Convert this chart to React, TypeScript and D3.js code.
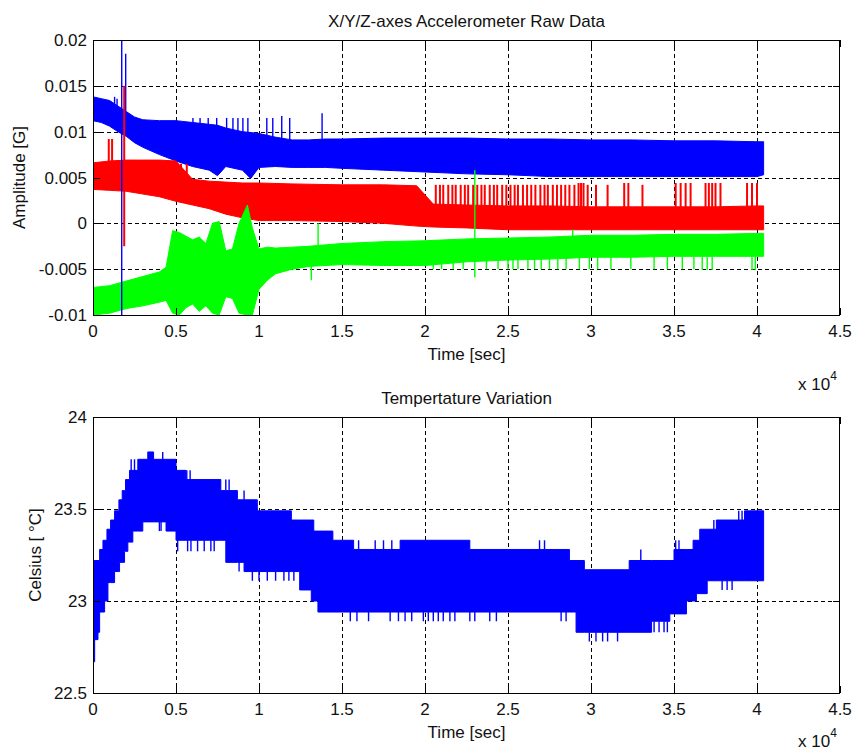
import { useEffect, useRef } from 'react'
import * as d3 from 'd3'

const FONT = '"Liberation Sans", Arial, Helvetica, sans-serif'

// shared time axis (seconds)
const timeTicks = [0, 5000, 10000, 15000, 20000, 25000, 30000, 35000, 40000, 45000]
const accTicks = [-0.01, -0.005, 0, 0.005, 0.01, 0.015, 0.02]
const accTickLabels = ['-0.01', '-0.005', '0', '0.005', '0.01', '0.015', '0.02']
const tempTicks = [22.5, 23, 23.5, 24]
const tempTickLabels = ['22.5', '23', '23.5', '24']

// accelerometer bands: time, upper envelope, lower envelope
const blueT = [0, 500, 1000, 1500, 2000, 2500, 3000, 4000, 5000, 6000, 7000, 7500, 8000, 9000, 9500, 10000, 11000, 12000, 13000, 14000, 15000, 17500, 20000, 22500, 25000, 27500, 30000, 32500, 35000, 37500, 40000, 40400]
const blueHi = [0.0138, 0.0136, 0.0134, 0.0128, 0.0122, 0.0116, 0.0113, 0.0112, 0.0112, 0.011, 0.0108, 0.0107, 0.0104, 0.01, 0.0099, 0.0098, 0.0094, 0.0091, 0.0091, 0.0092, 0.0092, 0.0093, 0.0093, 0.0093, 0.0092, 0.0092, 0.0091, 0.0091, 0.009, 0.009, 0.0089, 0.0089]
const blueLo = [0.0112, 0.011, 0.0106, 0.01, 0.0095, 0.0088, 0.0083, 0.0075, 0.0068, 0.0062, 0.0058, 0.0052, 0.0062, 0.0058, 0.0049, 0.0061, 0.0062, 0.0061, 0.0061, 0.0061, 0.006, 0.0058, 0.0056, 0.0054, 0.0053, 0.0051, 0.0051, 0.0051, 0.0051, 0.0051, 0.0051, 0.0053]

const redT = [0, 1000, 2000, 3000, 4000, 5000, 5500, 6000, 7000, 8000, 9000, 10000, 12000, 15000, 17500, 19500, 20500, 22500, 25000, 27500, 30000, 32500, 35000, 37500, 40000, 40400]
const redHi = [0.0066, 0.0068, 0.0069, 0.0069, 0.0069, 0.0068, 0.0058, 0.0048, 0.0046, 0.0045, 0.0044, 0.0044, 0.0043, 0.0042, 0.0042, 0.0041, 0.0021, 0.002, 0.0019, 0.0019, 0.0018, 0.0018, 0.0018, 0.0018, 0.0019, 0.0019]
const redLo = [0.0037, 0.0036, 0.0035, 0.0032, 0.0029, 0.0024, 0.0022, 0.002, 0.0016, 0.001, 0.0006, 0.0003, 0.0003, 0.0002, 0, -0.0003, -0.0004, -0.0005, -0.0007, -0.0007, -0.0007, -0.0007, -0.0007, -0.0007, -0.0007, -0.0007]

const greenT = [0, 1000, 2000, 3000, 4000, 4400, 4800, 5200, 5600, 6000, 6400, 6800, 7200, 7600, 8000, 8400, 8800, 9300, 9600, 10000, 10500, 11000, 12000, 13000, 15000, 17500, 20000, 22500, 25000, 27500, 30000, 32500, 35000, 37500, 40000, 40400]
const greenHi = [-0.007, -0.0068, -0.0063, -0.0058, -0.0053, -0.0048, -0.0008, -0.001, -0.0014, -0.0018, -0.0015, -0.0022, 0, 0.0002, -0.003, -0.0028, 0, 0.002, -0.0005, -0.0028, -0.0026, -0.0027, -0.0026, -0.0025, -0.0022, -0.002, -0.0019, -0.0017, -0.0016, -0.0015, -0.0013, -0.0013, -0.0012, -0.0012, -0.0011, -0.0011]
const greenLo = [-0.01, -0.0098, -0.0093, -0.009, -0.0086, -0.0084, -0.0098, -0.01, -0.0092, -0.0088, -0.0096, -0.009, -0.0098, -0.01, -0.008, -0.0082, -0.0098, -0.01, -0.01, -0.0072, -0.0062, -0.0055, -0.005, -0.0047, -0.0045, -0.0046, -0.0046, -0.0042, -0.004, -0.0039, -0.0037, -0.0037, -0.0036, -0.0036, -0.0036, -0.0036]

// single glitches: [time, from, to]
const blueSpikes = [
  [1730, -0.012, 0.022], [1970, 0.0098, 0.0185], [1300, 0.013, 0.0138], [1450, 0.0128, 0.0136],
  [6020, 0.0105, 0.0115], [6450, 0.0105, 0.0115], [6940, 0.0105, 0.0115], [7450, 0.0105, 0.0115],
  [8050, 0.01, 0.0115], [8430, 0.0098, 0.0115], [8730, 0.0098, 0.0115], [9030, 0.0096, 0.0115],
  [9330, 0.0096, 0.0115], [10470, 0.0094, 0.0115], [10830, 0.0092, 0.0115], [11370, 0.009, 0.0117],
  [11850, 0.009, 0.0115], [13800, 0.009, 0.012],
]
const redSpikes = [
  [1880, -0.0025, 0.015], [950, 0.006, 0.0092], [1150, 0.006, 0.0092],
  [4850, 0.004, 0.0065], [5300, 0.004, 0.0065], [5650, 0.004, 0.0065],
  [20650, 0.0015, 0.0042], [20900, 0.0015, 0.0042], [21100, 0.0015, 0.0042], [21400, 0.0015, 0.0042],
  [21650, 0.0015, 0.0042], [21850, 0.0015, 0.0042], [22150, 0.0015, 0.0042], [22400, 0.0015, 0.0042],
  [22600, 0.0015, 0.0042], [22900, 0.0015, 0.0042], [23150, 0.0015, 0.0042], [23400, 0.0015, 0.0042],
  [23600, 0.0015, 0.0042], [23900, 0.0015, 0.0042], [24150, 0.0015, 0.0042], [24350, 0.0015, 0.0042],
  [24650, 0.0015, 0.0042], [24900, 0.0015, 0.0042], [25150, 0.0015, 0.0042], [25400, 0.0015, 0.0042],
  [25600, 0.0015, 0.0042], [25900, 0.0015, 0.0042], [26150, 0.0015, 0.0042], [26400, 0.0015, 0.0042],
  [26650, 0.0015, 0.0042], [26950, 0.0015, 0.0042], [27200, 0.0015, 0.0042], [27400, 0.0015, 0.0042],
  [27700, 0.0015, 0.0042], [27950, 0.0015, 0.0042], [28200, 0.0015, 0.0042], [28450, 0.0015, 0.0042],
  [28700, 0.0015, 0.0042], [29000, 0.0015, 0.0042], [29250, 0.0015, 0.0044], [29400, 0.0015, 0.0044],
  [29550, 0.0015, 0.0044], [29800, 0.0015, 0.0042], [30300, 0.0015, 0.0042], [31000, 0.0015, 0.0042],
  [32000, 0.0015, 0.0044], [32250, 0.0015, 0.0044], [33100, 0.0015, 0.0042], [35100, 0.0015, 0.0044],
  [35400, 0.0015, 0.0044], [35700, 0.0015, 0.0044], [36000, 0.0015, 0.0044], [36900, 0.0015, 0.0044],
  [37100, 0.0015, 0.0044], [37300, 0.0015, 0.0044], [37500, 0.0015, 0.0044], [37800, 0.0015, 0.0044],
  [39400, 0.0015, 0.0044], [39700, 0.0015, 0.0044], [40000, 0.0015, 0.0044],
]
const greenSpikes = [
  [23000, -0.0059, 0.0058], [13560, -0.004, 0], [13150, -0.0062, -0.004], [28900, -0.002, -0.0007],
  [20500, -0.004, -0.005], [21000, -0.004, -0.005], [21700, -0.004, -0.005], [22300, -0.004, -0.005],
  [23700, -0.004, -0.005], [24400, -0.004, -0.005], [25000, -0.0038, -0.005], [25300, -0.0038, -0.005],
  [25600, -0.0038, -0.005], [26200, -0.0038, -0.005], [26600, -0.0038, -0.005], [27000, -0.0038, -0.005],
  [27500, -0.0038, -0.005], [28000, -0.0038, -0.005], [28500, -0.0037, -0.005], [29300, -0.0037, -0.005],
  [29900, -0.0037, -0.005], [30400, -0.0036, -0.005], [31200, -0.0036, -0.005], [32400, -0.0036, -0.005],
  [33800, -0.0036, -0.005], [34600, -0.0036, -0.005], [35500, -0.0036, -0.005], [36200, -0.0036, -0.005],
  [36700, -0.0036, -0.0051], [37000, -0.0036, -0.0051], [37300, -0.0036, -0.0051], [39700, -0.0036, -0.0051],
  [39900, -0.0036, -0.0051],
]

// temperature staircase (°C)
const tempHiT = [0, 400, 600, 840, 1060, 1300, 1560, 1760, 1960, 2200, 2700, 3300, 3650, 5000, 5600, 7700, 8700, 9900, 11950, 13300, 14450, 15700, 18500, 22700, 28700, 29600, 32300, 35000, 36150, 36550, 37550, 39250, 40400]
const tempHi = [23.22, 23.28, 23.33, 23.39, 23.44, 23.49, 23.55, 23.6, 23.66, 23.71, 23.77, 23.81, 23.77, 23.71, 23.66, 23.6, 23.55, 23.49, 23.44, 23.38, 23.33, 23.28, 23.33, 23.28, 23.22, 23.17, 23.22, 23.28, 23.33, 23.39, 23.44, 23.49, 23.49]
const tempLoT = [0, 100, 300, 400, 700, 900, 1300, 1600, 1900, 2100, 2400, 3000, 4400, 5000, 8000, 9100, 12450, 13150, 13550, 29100, 33650, 34750, 35750, 36350, 37000, 40400]
const tempLo = [22.67, 22.79, 22.83, 22.94, 23.0, 23.1, 23.16, 23.21, 23.27, 23.32, 23.38, 23.43, 23.38, 23.33, 23.21, 23.16, 23.06, 23.0, 22.94, 22.83, 22.89, 22.93, 23.0, 23.04, 23.11, 23.11]
const tempSpikes = [
  [2300, 23.7, 23.77], [2500, 23.7, 23.77], [4200, 23.77, 23.81], [5650, 23.66, 23.71], [5850, 23.66, 23.71],
  [8000, 23.6, 23.66], [8200, 23.6, 23.66], [9100, 23.55, 23.6], [15400, 23.28, 23.33], [16000, 23.28, 23.33],
  [17000, 23.28, 23.33], [17500, 23.28, 23.33], [18000, 23.28, 23.33], [26900, 23.28, 23.33], [27200, 23.28, 23.33],
  [33000, 23.22, 23.28], [35100, 23.28, 23.33], [35300, 23.28, 23.33], [37400, 23.39, 23.44], [37600, 23.39, 23.44],
  [38900, 23.44, 23.49], [39100, 23.44, 23.49],
  [4000, 23.43, 23.38], [4100, 23.43, 23.38], [5100, 23.33, 23.27], [5700, 23.33, 23.27], [5900, 23.33, 23.27],
  [6300, 23.33, 23.27], [6700, 23.33, 23.27], [7100, 23.33, 23.27], [7300, 23.33, 23.27], [8800, 23.21, 23.16],
  [9600, 23.16, 23.11], [10000, 23.16, 23.11], [10500, 23.16, 23.11], [11000, 23.16, 23.11], [11500, 23.16, 23.11],
  [11800, 23.16, 23.11], [12100, 23.16, 23.11],
  [15500, 22.94, 22.89], [15900, 22.94, 22.89], [16600, 22.94, 22.89], [17900, 22.94, 22.89], [18400, 22.94, 22.89],
  [18800, 22.94, 22.89], [19200, 22.94, 22.89], [19900, 22.94, 22.89], [20200, 22.94, 22.89], [20500, 22.94, 22.89],
  [20800, 22.94, 22.89], [21100, 22.94, 22.89], [21500, 22.94, 22.89], [21800, 22.94, 22.89], [22700, 22.94, 22.89],
  [23000, 22.94, 22.89], [23900, 22.94, 22.89], [24300, 22.94, 22.89], [28200, 22.94, 22.89], [28500, 22.94, 22.89],
  [29900, 22.83, 22.78], [30300, 22.83, 22.78], [30700, 22.83, 22.78], [31000, 22.83, 22.78], [31600, 22.83, 22.78],
  [33800, 22.89, 22.83], [34100, 22.89, 22.83], [34400, 22.89, 22.83], [34600, 22.89, 22.83],
  [37900, 23.11, 23.06], [38200, 23.11, 23.06], [38500, 23.11, 23.06],
]

const TOP = { left: 93, right: 840, top: 40, bottom: 315, expY: 390 }
const BOTTOM = { left: 93, right: 840, top: 417, bottom: 693, expY: 747 }

export default function App() {
  const svgRef = useRef<SVGSVGElement>(null)

  useEffect(() => {
    const svg = d3.select(svgRef.current)
    svg.selectAll('*').remove()

    const drawPanel = (box, id, yDomain, yTicks, yLabels, title, yLabel, yLabelX, plotData) => {
      const x = d3.scaleLinear().domain([0, 45000]).range([box.left, box.right])
      const y = d3.scaleLinear().domain(yDomain).range([box.bottom, box.top])
      const px = (v) => Math.round(v) + 0.5

      svg.append('clipPath').attr('id', id)
        .append('rect')
        .attr('x', box.left).attr('y', box.top)
        .attr('width', box.right - box.left).attr('height', box.bottom - box.top)

      // grid
      const grid = svg.append('g')
        .attr('stroke', '#000').attr('stroke-width', 1).attr('stroke-dasharray', '4,3')
      timeTicks.slice(1, -1).forEach((t) => {
        grid.append('line').attr('x1', px(x(t))).attr('x2', px(x(t)))
          .attr('y1', box.top).attr('y2', box.bottom)
      })
      yTicks.slice(1, -1).forEach((v) => {
        grid.append('line').attr('y1', px(y(v))).attr('y2', px(y(v)))
          .attr('x1', box.left).attr('x2', box.right)
      })

      const plot = svg.append('g').attr('clip-path', `url(#${id})`)
      plotData(plot, x, y)

      // box and ticks
      const frame = svg.append('g').attr('stroke', '#000').attr('stroke-width', 1).attr('fill', 'none')
      frame.append('rect')
        .attr('x', box.left + 0.5).attr('y', box.top + 0.5)
        .attr('width', box.right - box.left - 1).attr('height', box.bottom - box.top)
      const tl = 7
      timeTicks.forEach((t) => {
        frame.append('line').attr('x1', px(x(t))).attr('x2', px(x(t))).attr('y1', box.bottom).attr('y2', box.bottom - tl)
        frame.append('line').attr('x1', px(x(t))).attr('x2', px(x(t))).attr('y1', box.top).attr('y2', box.top + tl)
      })
      yTicks.forEach((v) => {
        frame.append('line').attr('y1', px(y(v))).attr('y2', px(y(v))).attr('x1', box.left).attr('x2', box.left + tl)
        frame.append('line').attr('y1', px(y(v))).attr('y2', px(y(v))).attr('x1', box.right).attr('x2', box.right - tl)
      })

      const text = svg.append('g').attr('font-family', FONT).attr('font-size', 17).attr('fill', '#111')
      timeTicks.forEach((t) => {
        text.append('text').attr('x', x(t)).attr('y', box.bottom + 22)
          .attr('text-anchor', 'middle').text(d3.format('~g')(t / 10000))
      })
      yTicks.forEach((v, i) => {
        text.append('text').attr('x', box.left - 6).attr('y', y(v) + 6)
          .attr('text-anchor', 'end').text(yLabels[i])
      })
      text.append('text').attr('x', (box.left + box.right) / 2).attr('y', box.bottom + 45)
        .attr('text-anchor', 'middle').text('Time [sec]')
      text.append('text').attr('x', (box.left + box.right) / 2).attr('y', box.top - 13)
        .attr('text-anchor', 'middle').text(title)
      text.append('text')
        .attr('transform', `translate(${yLabelX},${(box.top + box.bottom) / 2}) rotate(-90)`)
        .attr('text-anchor', 'middle').text(yLabel)
      const exp = text.append('text').attr('x', 798).attr('y', box.expY)
      exp.append('tspan').text('x 10')
      exp.append('tspan').attr('font-size', 12).attr('dy', -10).text('4')
    }

    const band = (g, x, y, ts, hi, lo, color, curve) => {
      const pts = ts.map((t, i) => ({ t, hi: hi[i], lo: lo[i] }))
      const area = d3.area().curve(curve)
        .x((d) => x(d.t)).y0((d) => y(d.lo)).y1((d) => y(d.hi))
      g.append('path').datum(pts).attr('d', area)
        .attr('fill', color).attr('stroke', color).attr('stroke-width', 1)
    }
    const spikes = (g, x, y, list, color, width) => {
      g.append('g').attr('stroke', color).attr('stroke-width', width)
        .selectAll('line').data(list).join('line')
        .attr('x1', (d) => x(d[0])).attr('x2', (d) => x(d[0]))
        .attr('y1', (d) => y(d[1])).attr('y2', (d) => y(d[2]))
    }

    drawPanel(TOP, 'clip-acc', [-0.01, 0.02], accTicks, accTickLabels,
      'X/Y/Z-axes Accelerometer Raw Data', 'Amplitude [G]', 25, (g, x, y) => {
        band(g, x, y, blueT, blueHi, blueLo, '#0000ff', d3.curveLinear)
        band(g, x, y, redT, redHi, redLo, '#ff0000', d3.curveLinear)
        band(g, x, y, greenT, greenHi, greenLo, '#00ff00', d3.curveLinear)
        spikes(g, x, y, blueSpikes, '#0000ff', 1.4)
        spikes(g, x, y, redSpikes, '#ff0000', 2)
        spikes(g, x, y, greenSpikes, '#00ff00', 1.4)
      })

    drawPanel(BOTTOM, 'clip-temp', [22.5, 24], tempTicks, tempTickLabels,
      'Tempertature Variation', 'Celsius [ °C]', 41, (g, x, y) => {
        const hiLine = tempHiT.map((t, i) => [t, tempHi[i]])
        const loLine = tempLoT.map((t, i) => [t, tempLo[i]])
        // put both staircases on one time grid so they form a single area
        const times = Array.from(new Set([...tempHiT, ...tempLoT])).sort((a, b) => a - b)
        const stepVal = (line, t) => {
          let v = line[0][1]
          for (const [tt, vv] of line) if (tt <= t) v = vv
          return v
        }
        const hi = times.map((t) => stepVal(hiLine, t))
        const lo = times.map((t) => stepVal(loLine, t))
        band(g, x, y, times, hi, lo, '#0000ff', d3.curveStepAfter)
        spikes(g, x, y, tempSpikes, '#0000ff', 1.4)
      })
  }, [])

  return (
    <svg
      ref={svgRef}
      width={853}
      height={751}
      style={{ position: 'absolute', left: 0, top: 0, background: '#fff' }}
    />
  )
}
